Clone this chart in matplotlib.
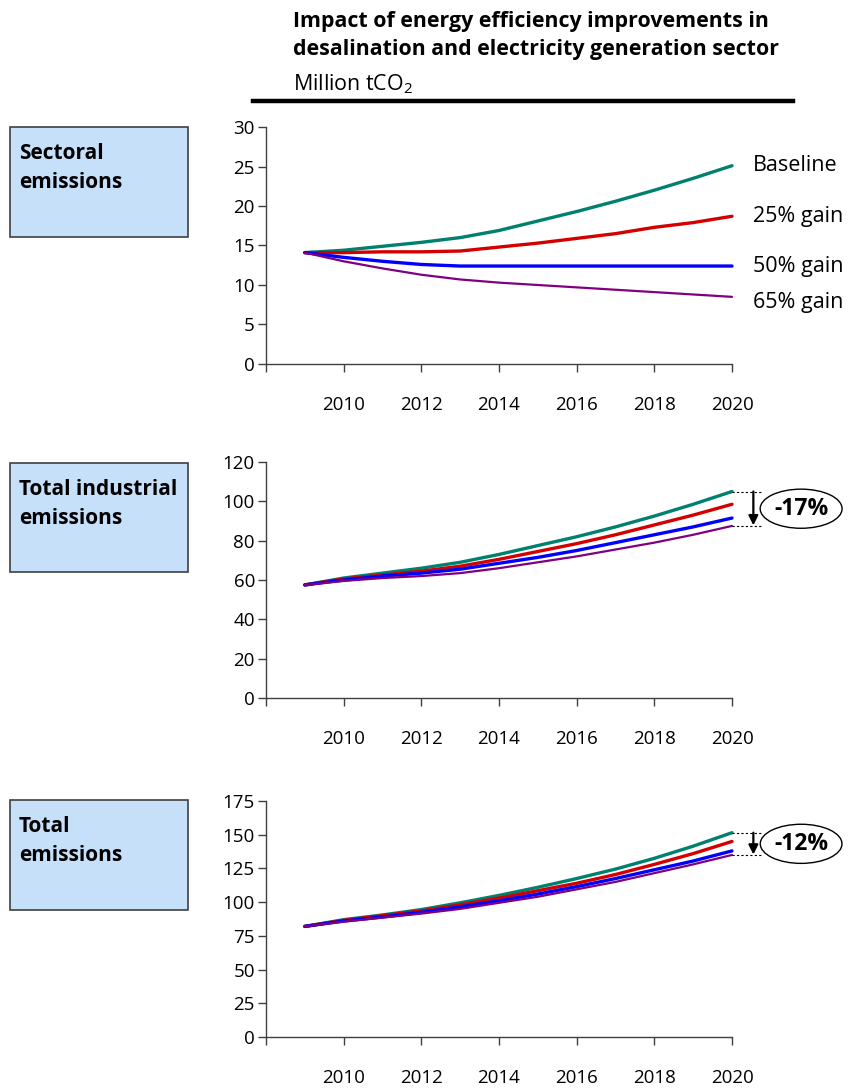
import matplotlib.pyplot as plt
from matplotlib.lines import Line2D
from matplotlib.patches import Rectangle

plt.rcParams['font.family'] = ['Open Sans', 'DejaVu Sans']
plt.rcParams['mathtext.fontset'] = 'custom'
plt.rcParams['mathtext.rm'] = 'Open Sans'

years = list(range(2009, 2021))
scenarios = ["Baseline", "25% gain", "50% gain", "65% gain"]
colors = ["#00806E", "#D40000", "#0000FF", "#800080"]
widths = [2.4, 2.4, 2.4, 1.6]

sectoral = [
    [14.1, 14.4, 14.9, 15.4, 16.0, 16.9, 18.1, 19.3, 20.6, 22.0, 23.5, 25.1],
    [14.1, 14.1, 14.2, 14.2, 14.3, 14.8, 15.3, 15.9, 16.5, 17.3, 17.9, 18.7],
    [14.1, 13.5, 13.0, 12.6, 12.4, 12.4, 12.4, 12.4, 12.4, 12.4, 12.4, 12.4],
    [14.1, 13.0, 12.1, 11.3, 10.7, 10.3, 10.0, 9.7, 9.4, 9.1, 8.8, 8.5],
]
industrial = [
    [57.5, 61.0, 63.5, 66.0, 69.0, 73.0, 77.5, 82.0, 87.0, 92.5, 98.5, 105.0],
    [57.5, 60.5, 62.5, 64.5, 67.0, 70.5, 74.5, 78.5, 83.0, 88.0, 93.0, 98.5],
    [57.5, 60.0, 62.0, 63.5, 65.5, 68.5, 71.5, 75.0, 79.0, 83.0, 87.0, 91.5],
    [57.5, 59.5, 61.0, 62.0, 63.5, 66.0, 69.0, 72.0, 75.5, 79.0, 83.0, 87.5],
]
total = [
    [82.0, 87.0, 90.5, 94.5, 99.5, 105.0, 111.0, 117.5, 124.5, 132.5, 141.5, 151.5],
    [82.0, 86.5, 90.0, 93.5, 98.0, 103.0, 108.5, 114.0, 120.5, 128.0, 136.0, 145.0],
    [82.0, 86.0, 89.0, 92.5, 96.5, 101.0, 106.0, 111.5, 117.5, 124.0, 130.5, 138.0],
    [82.0, 85.5, 88.5, 91.5, 95.0, 99.5, 104.0, 109.5, 115.0, 121.5, 128.0, 135.0],
]

panel_titles = ["Sectoral\nemissions", "Total industrial\nemissions", "Total\nemissions"]
panel_data = [sectoral, industrial, total]
panel_yticks = [list(range(0, 31, 5)), list(range(0, 121, 20)), list(range(0, 176, 25))]
panel_changes = [None, "-17%", "-12%"]

W, H = 848, 1088
fig = plt.figure(figsize=(W / 100, H / 100), dpi=100)

# axes boxes in pixels: (top, bottom)
axes_px = [(127, 364), (462, 698), (801, 1037)]
box_px = [(127, 237), (463, 572), (800, 910)]
ax_left, ax_right = 266, 732
axis_col = "#404040"

for i, (data, yt) in enumerate(zip(panel_data, panel_yticks)):
    top, bot = axes_px[i]
    ax = fig.add_axes([ax_left / W, 1 - bot / H, (ax_right - ax_left) / W, (bot - top) / H])
    for vals, c, lw in zip(data, colors, widths):
        ax.plot(years, vals, color=c, lw=lw, solid_capstyle="round", clip_on=False)
    ax.set_xlim(2008, 2020)
    ax.set_ylim(yt[0], yt[-1])
    ax.set_yticks(yt)
    ax.set_xticks(range(2008, 2021, 2))
    ax.set_xticklabels([""] + [str(y) for y in range(2010, 2021, 2)])
    for s in ["top", "right"]:
        ax.spines[s].set_visible(False)
    for s in ["left", "bottom"]:
        ax.spines[s].set_color(axis_col)
        ax.spines[s].set_linewidth(1.0)
    ax.tick_params(axis="both", colors=axis_col, labelcolor="black", length=6, width=1.0,
                   labelsize=13.5)
    ax.tick_params(axis="x", pad=17)
    ax.tick_params(axis="y", pad=2)

    if i == 0:
        offsets = [0, 0, 0, -4]
        for name, vals, off in zip(scenarios, data, offsets):
            ax.annotate(name, xy=(2020, vals[-1]), xytext=(15, off), textcoords="offset points",
                        ha="left", va="center", fontsize=15.5, annotation_clip=False)
    else:
        hi, lo = data[0][-1], data[-1][-1]
        ax.plot([2020, 2020.8], [hi, hi], color="black", lw=0.8, ls=(0, (2, 2)), clip_on=False)
        ax.plot([2020, 2020.8], [lo, lo], color="black", lw=0.8, ls=(0, (2, 2)), clip_on=False)
        ax.annotate("", xy=(2020.55, lo + 0.3), xytext=(2020.55, hi),
                    arrowprops=dict(arrowstyle="-|>", color="black", lw=1.6,
                                    mutation_scale=14, shrinkA=0, shrinkB=0),
                    annotation_clip=False)
        ax.text(2021.78, (hi + lo) / 2, panel_changes[i], ha="center", va="center",
                fontsize=16.5, fontweight="bold", clip_on=False,
                bbox=dict(boxstyle="ellipse,pad=0.08", fc="white", ec="black", lw=1.0))

    btop, bbot = box_px[i]
    fig.add_artist(Rectangle((10 / W, 1 - bbot / H), 178 / W, (bbot - btop) / H,
                             transform=fig.transFigure, fc="#C6E0FA", ec="#404040", lw=1.2))
    fig.text(19 / W, 1 - (btop + 16) / H, panel_titles[i], ha="left", va="top",
             fontsize=15, fontweight="bold", linespacing=1.5)

fig.text(293 / W, 1 - 11 / H,
         "Impact of energy efficiency improvements in\ndesalination and electricity generation sector",
         ha="left", va="top", fontsize=15.4, fontweight="bold", linespacing=1.45)
fig.text(293 / W, 1 - 72 / H, "Million tCO$_2$", ha="left", va="top", fontsize=15.4)
fig.add_artist(Line2D([253 / W, 793 / W], [1 - 101 / H, 1 - 101 / H], color="black", lw=3.2,
                      transform=fig.transFigure))

fig.savefig("out.png", dpi=100)
